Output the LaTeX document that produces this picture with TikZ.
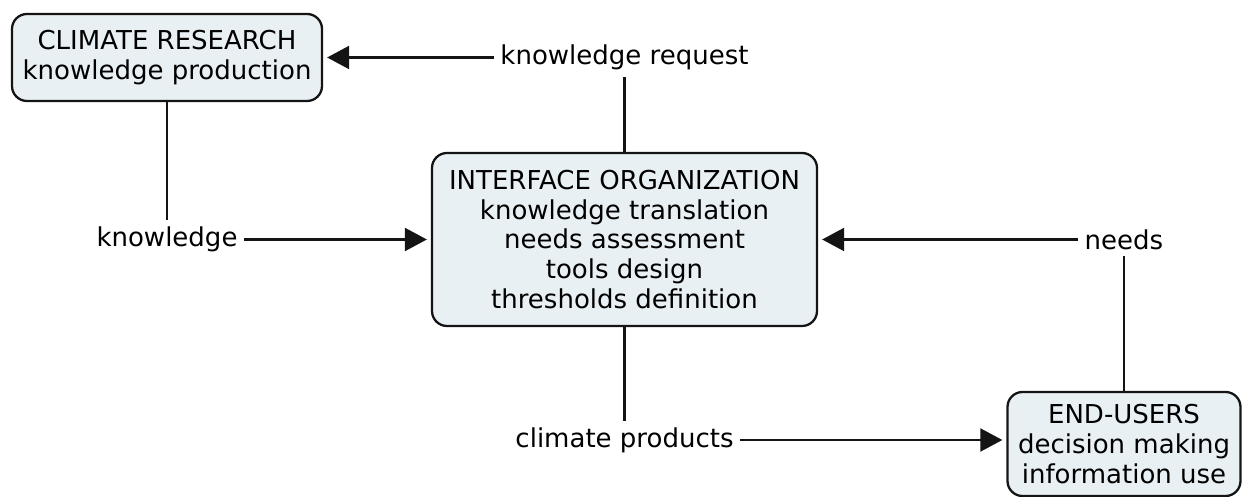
\documentclass[tikz,border=0pt]{standalone}
\usepackage{fontspec}
\setmainfont{DejaVu Sans}
\definecolor{BoxFill}{RGB}{233, 240, 244}
\definecolor{LineGray}{RGB}{20, 20, 20}
\usetikzlibrary{arrows.meta, positioning}

\begin{document}
\begin{tikzpicture}[
            font=\fontsize{14.8}{17}\selectfont,
            box/.style={rectangle, rounded corners=0.3cm, draw=LineGray, line width=1.3pt,
                        fill=BoxFill, align=center, inner sep=0.1cm},
            label/.style={inner sep=0.13cm},
            link/.style={line width=1.2pt, LineGray},
            arrow/.style={-{Triangle[length=0.44cm, width=0.46cm]}, line width=1.2pt, LineGray, shorten >=0.08cm}
        ]
            \useasboundingbox (0,0) rectangle (24.86,-9.94);

            % Boxes
            \node[box, minimum width=6.2cm, minimum height=1.74cm] (research) at (3.34,-1.15)
                {CLIMATE RESEARCH\\knowledge production};
            \node[box, minimum width=7.7cm, minimum height=3.46cm] (interface) at (12.49,-4.79)
                {INTERFACE ORGANIZATION\\knowledge translation\\needs assessment\\tools design\\thresholds definition};
            \node[box, minimum width=4.66cm, minimum height=2.08cm] (users) at (22.48,-8.88)
                {END-USERS\\decision making\\information use};

            % Link labels
            \node[label] (request) at (12.49,-1.15) {knowledge request};
            \node[label] (knowledge) at (3.34,-4.79) {knowledge};
            \node[label] (needs) at (22.48,-4.79) {needs};
            \node[label] (products) at (12.49,-8.8) {climate products};

            % Links
            \draw[link] (interface) -- (request);
            \draw[arrow] (request) -- (research);
            \draw[link] (research) -- (knowledge);
            \draw[arrow] (knowledge) -- (interface);
            \draw[link] (users) -- (needs);
            \draw[arrow] (needs) -- (interface);
            \draw[link] (interface) -- (products);
            \draw[arrow] (products) -- (products -| users.west);
        \end{tikzpicture}
\end{document}
